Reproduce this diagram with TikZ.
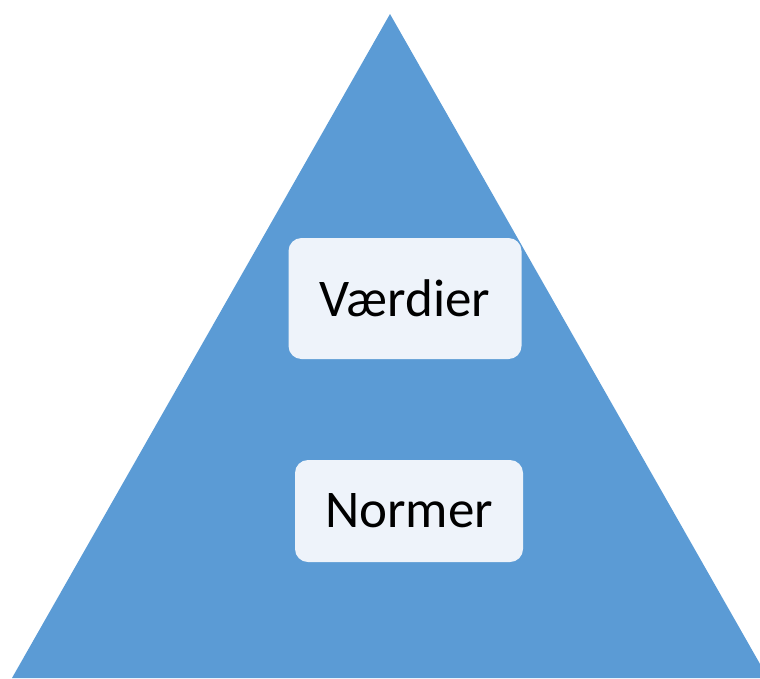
\documentclass[tikz,border=0pt]{standalone}
\usepackage{fontspec}
\setmainfont{Carlito}
\definecolor{triblue}{HTML}{5B9BD5}
\definecolor{boxfill}{HTML}{EEF3FA}
\begin{document}
\begin{tikzpicture}[x=1pt,y=-1pt,
  labelbox/.style={fill=boxfill, rounded corners=13pt, inner sep=0pt, font=\fontsize{53}{63}\selectfont, text=black}]
\useasboundingbox (0,0) rectangle (760,678);
\begin{scope}
\clip (0,0) rectangle (760,678);
\fill[triblue] (390,14) -- (768,678) -- (12,678) -- cycle;
\end{scope}
\node[labelbox, minimum width=233pt, minimum height=121pt] (v) at (405,298.5) {Værdier};
\node[labelbox, minimum width=228pt, minimum height=102pt] (n) at (409,511) {Normer};
\end{tikzpicture}
\end{document}
